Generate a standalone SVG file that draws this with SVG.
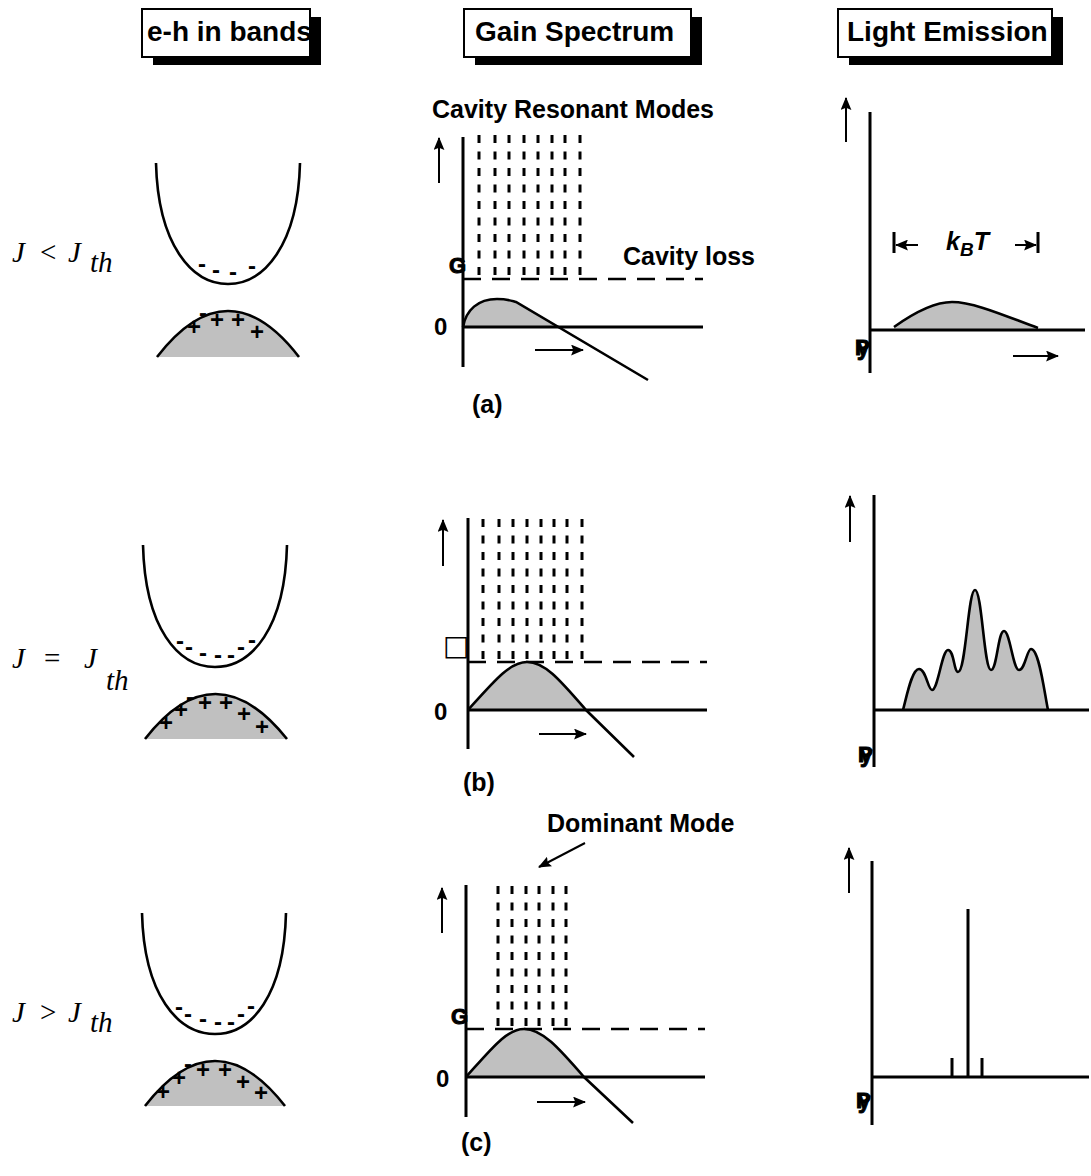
<svg xmlns="http://www.w3.org/2000/svg" width="1091" height="1176" viewBox="0 0 1091 1176">
<defs>
<style>
.hdr{font-family:"Liberation Sans",Arial,sans-serif;font-weight:bold;font-size:28px;fill:#000}
.lbl{font-family:"Liberation Sans",Arial,sans-serif;font-weight:bold;font-size:25px;fill:#000}
.zero{font-family:"Liberation Sans",Arial,sans-serif;font-weight:bold;font-size:24px;fill:#000}
.sym{font-family:"Liberation Sans",Arial,sans-serif;font-weight:bold;font-size:22px;fill:#000;stroke:#000;stroke-width:1}
.pm{font-family:"Liberation Sans",Arial,sans-serif;font-weight:bold;font-size:24px;fill:#000;text-anchor:middle}
.jl{font-family:"Liberation Serif","Times New Roman",serif;font-size:29px;fill:#000}
.it{font-style:italic}
.box{fill:#fff;stroke:#000;stroke-width:2}
.shadow{fill:#000}
.axis{stroke:#000;stroke-width:3;fill:none}
.curve{stroke:#000;stroke-width:2.6;fill:none}
.fill{fill:#c0c0c0;stroke:none}
.hdash{stroke:#000;stroke-width:2.5;stroke-dasharray:18 11;fill:none}
.vdash{stroke:#000;stroke-width:3;stroke-dasharray:8 8.5;fill:none}
.arr{stroke:#000;stroke-width:2;fill:none;marker-end:url(#ah)}
.line{stroke:#000;stroke-width:3;fill:none}
</style>
<marker id="ah" viewBox="0 0 12 10" refX="11" refY="5" markerWidth="6.5" markerHeight="5.5" orient="auto" markerUnits="strokeWidth">
<path d="M0,0 L12,5 L0,10 L2,5 z" fill="#000"/>
</marker>
<clipPath id="c1"><rect x="142" y="9" width="168" height="48"/></clipPath>
<clipPath id="c2"><rect x="464" y="9" width="227" height="48"/></clipPath>
<clipPath id="c3"><rect x="838" y="9" width="214" height="48"/></clipPath>
</defs>
<rect width="1091" height="1176" fill="#fff"/>

<g id="header-eh">
<rect class="shadow" x="153" y="17" width="168" height="48"/>
<rect class="box" x="142" y="9" width="168" height="48"/>
<text class="hdr" x="147" y="41" clip-path="url(#c1)">e-h in bands</text>
</g>
<g id="header-gain">
<rect class="shadow" x="475" y="17" width="227" height="48"/>
<rect class="box" x="464" y="9" width="227" height="48"/>
<text class="hdr" x="475" y="41" clip-path="url(#c2)">Gain Spectrum</text>
</g>
<g id="header-light">
<rect class="shadow" x="849" y="17" width="214" height="48"/>
<rect class="box" x="838" y="9" width="214" height="48"/>
<text class="hdr" x="847" y="41" clip-path="url(#c3)">Light Emission</text>
</g>

<g id="label-a">
<text class="jl" y="262"><tspan class="it" x="12">J</tspan><tspan x="40">&lt;</tspan><tspan class="it" x="68">J</tspan></text>
<text class="jl it" x="90" y="272" font-size="18">th</text>
</g>
<g id="label-b">
<text class="jl" y="668" font-size="32"><tspan class="it" x="12">J</tspan><tspan x="44">=</tspan><tspan class="it" x="84">J</tspan></text>
<text class="jl it" x="106" y="690" font-size="20">th</text>
</g>
<g id="label-c">
<text class="jl" y="1022"><tspan class="it" x="12">J</tspan><tspan x="40">&gt;</tspan><tspan class="it" x="68">J</tspan></text>
<text class="jl it" x="90" y="1032" font-size="18">th</text>
</g>

<g id="bands-a">
<path class="curve" d="M156,163 C158,245 192,284 228,284 C264,284 298,245 300,163"/>
<path class="fill" d="M157,357 Q228,265 299,357 Z"/>
<path class="curve" d="M157,357 Q228,265 299,357"/>
<text class="pm" x="202" y="272">-</text>
<text class="pm" x="216" y="278">-</text>
<text class="pm" x="233" y="280">-</text>
<text class="pm" x="252" y="274">-</text>
<text class="pm" x="203" y="321">-</text>
<text class="pm" x="194" y="335">+</text>
<text class="pm" x="217" y="328">+</text>
<text class="pm" x="238" y="328">+</text>
<text class="pm" x="257" y="340">+</text>
</g>
<g id="bands-b">
<path class="curve" d="M143,545 C145,628 178,667 215,667 C252,667 285,628 287,545"/>
<path class="fill" d="M145,739 Q215,649 287,739 Z"/>
<path class="curve" d="M145,739 Q215,649 287,739"/>
<text class="pm" x="180" y="649">-</text>
<text class="pm" x="189" y="655">-</text>
<text class="pm" x="203" y="661">-</text>
<text class="pm" x="218" y="663">-</text>
<text class="pm" x="231" y="663">-</text>
<text class="pm" x="241" y="655">-</text>
<text class="pm" x="252" y="648">-</text>
<text class="pm" x="190" y="705">-</text>
<text class="pm" x="166" y="731">+</text>
<text class="pm" x="181" y="718">+</text>
<text class="pm" x="205" y="711">+</text>
<text class="pm" x="226" y="711">+</text>
<text class="pm" x="244" y="722">+</text>
<text class="pm" x="262" y="735">+</text>
</g>
<g id="bands-c">
<path class="curve" d="M142,913 C144,995 178,1034 215,1034 C252,1034 284,995 286,913"/>
<path class="fill" d="M145,1106 Q215,1016 285,1106 Z"/>
<path class="curve" d="M145,1106 Q215,1016 285,1106"/>
<text class="pm" x="179" y="1015">-</text>
<text class="pm" x="188" y="1022">-</text>
<text class="pm" x="203" y="1027">-</text>
<text class="pm" x="218" y="1030">-</text>
<text class="pm" x="231" y="1030">-</text>
<text class="pm" x="241" y="1022">-</text>
<text class="pm" x="251" y="1014">-</text>
<text class="pm" x="188" y="1072">-</text>
<text class="pm" x="163" y="1100">+</text>
<text class="pm" x="179" y="1086">+</text>
<text class="pm" x="203" y="1078">+</text>
<text class="pm" x="225" y="1078">+</text>
<text class="pm" x="243" y="1090">+</text>
<text class="pm" x="261" y="1101">+</text>
</g>

<g id="gain-a">
<text class="lbl" x="432" y="118">Cavity Resonant Modes</text>
<path class="vdash" d="M479,135V277 M495,135V277 M509,135V277 M524,135V277 M538,135V277 M552,135V277 M565,135V277 M580,135V277"/>
<path class="hdash" d="M463,279H703"/>
<path class="fill" d="M463,327 C466,310 478,299 497,299 C508,299 512,301 516,302 L558,327 Z"/>
<path class="curve" d="M463,327 C466,310 478,299 497,299 C508,299 512,301 516,302 L648,380"/>
<path class="axis" d="M463,137V367 M463,327H703"/>
<text class="zero" x="434" y="335">0</text>
<text class="sym" x="449" y="273">G</text>
<text class="lbl" x="623" y="265">Cavity loss</text>
<text class="lbl" x="472" y="413">(a)</text>
</g>
<g id="gain-b">
<path class="vdash" d="M483,519V660 M499,519V660 M513,519V660 M527,519V660 M541,519V660 M554,519V660 M567,519V660 M582,519V660"/>
<path class="hdash" d="M468,662H707"/>
<path class="fill" d="M468,710 C495,680 510,662 527,662 C545,662 560,680 586,710 Z"/>
<path class="curve" d="M468,710 C495,680 510,662 527,662 C545,662 560,680 586,710 L634,757"/>
<path class="axis" d="M468,518V749 M468,710H707"/>
<text class="zero" x="434" y="720">0</text>
<text x="443" y="655" font-family="DejaVu Sans,sans-serif" font-size="28" fill="#000">□</text>
<text class="lbl" x="463" y="791">(b)</text>
</g>
<g id="gain-c">
<text class="lbl" x="547" y="832">Dominant Mode</text>
<path class="vdash" d="M498,886V1027 M512,886V1027 M526,886V1027 M539,886V1027 M553,886V1027 M566,886V1027"/>
<path class="hdash" d="M466,1029H705"/>
<path class="fill" d="M466,1077 C493,1047 507,1029 524,1029 C542,1029 558,1047 584,1077 Z"/>
<path class="curve" d="M466,1077 C493,1047 507,1029 524,1029 C542,1029 558,1047 584,1077 L633,1123"/>
<path class="axis" d="M466,885V1117 M466,1077H705"/>
<text class="zero" x="436" y="1087">0</text>
<text class="sym" x="451" y="1024">G</text>
<text class="lbl" x="461" y="1151">(c)</text>
</g>

<g id="light-a">
<path class="fill" d="M894,327 C915,312 935,302 952,302 C975,302 1010,318 1038,328 L1038,330 L894,330 Z"/>
<path class="curve" d="M894,327 C915,312 935,302 952,302 C975,302 1010,318 1038,328"/>
<path class="axis" d="M870,112V373 M870,330H1085"/>
<path class="line" d="M894,232V253 M1038,232V253"/>
<text class="lbl it" x="946" y="250" font-size="28">k<tspan font-size="19" dy="6">B</tspan><tspan dy="-6">T</tspan></text>
<text class="sym" y="355" font-size="27"><tspan x="855">P</tspan><tspan x="857">y</tspan></text>
</g>
<g id="light-b">
<path class="fill" d="M903,710 C907,695 912,669 919,669 C926,669 928,690 932,690 C938,690 942,650 948,650 C954,650 954,672 958,672 C966,672 968,590 975,590 C982,590 984,670 991,670 C997,670 998,631 1004,631 C1010,631 1013,670 1019,670 C1025,670 1027,649 1031,649 C1039,649 1044,690 1048,710 Z"/>
<path class="curve" d="M903,710 C907,695 912,669 919,669 C926,669 928,690 932,690 C938,690 942,650 948,650 C954,650 954,672 958,672 C966,672 968,590 975,590 C982,590 984,670 991,670 C997,670 998,631 1004,631 C1010,631 1013,670 1019,670 C1025,670 1027,649 1031,649 C1039,649 1044,690 1048,710"/>
<path class="axis" d="M874,495V767 M874,710H1089"/>
<text class="sym" y="762" font-size="27"><tspan x="858">P</tspan><tspan x="860">y</tspan></text>
</g>
<g id="light-c">
<path class="axis" d="M872,861V1125 M872,1077H1089"/>
<path class="line" d="M968,909V1077 M952,1058V1077 M982,1058V1077"/>
<text class="sym" y="1108" font-size="27"><tspan x="856">P</tspan><tspan x="858">y</tspan></text>
</g>

<g id="connectors">
<path class="arr" d="M439,183V138"/>
<path class="arr" d="M535,350H583"/>
<path class="arr" d="M443,566V520"/>
<path class="arr" d="M539,734H586"/>
<path class="arr" d="M442,933V888"/>
<path class="arr" d="M537,1102H585"/>
<path class="arr" d="M585,843L539,867"/>
<path class="arr" d="M846,142V98"/>
<path class="arr" d="M1013,356H1058"/>
<path class="arr" d="M918,245H896"/>
<path class="arr" d="M1015,245H1036"/>
<path class="arr" d="M850,542V496"/>
<path class="arr" d="M849,893V848"/>
</g>
</svg>
